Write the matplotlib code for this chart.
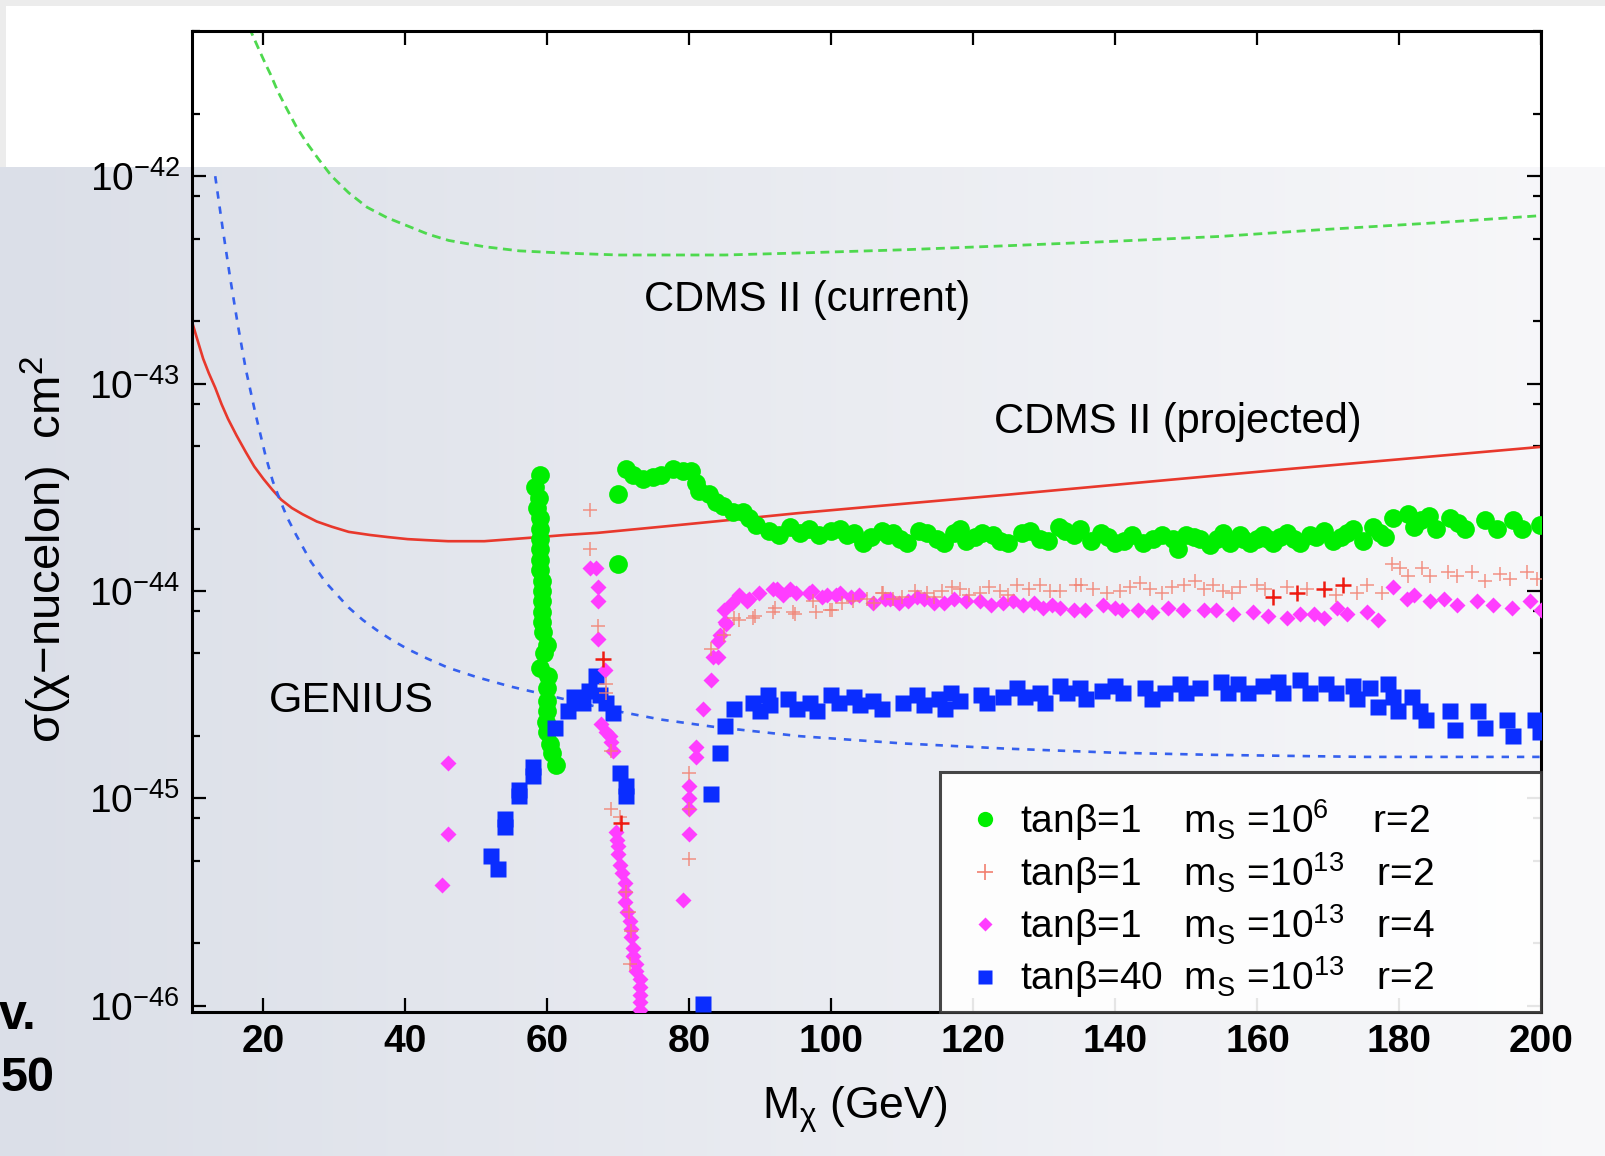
import numpy as np
import matplotlib
matplotlib.use('Agg')
import matplotlib.pyplot as plt
from matplotlib.lines import Line2D
from matplotlib.ticker import FixedLocator, LogLocator, FuncFormatter, NullFormatter

plt.rcParams['font.family'] = ['Liberation Sans', 'DejaVu Sans']
plt.rcParams['mathtext.fontset'] = 'custom'
plt.rcParams['mathtext.rm'] = 'Liberation Sans'
plt.rcParams['mathtext.it'] = 'Liberation Sans:italic'
plt.rcParams['mathtext.bf'] = 'Liberation Sans:bold'

# ---------------- data (x in GeV, y as log10 of cm^2) ----------------
x_ticks = [20, 40, 60, 80, 100, 120, 140, 160, 180, 200]
y_tick_exps = [-46, -45, -44, -43, -42]

cdms_cur_x = [17.2, 18.2, 19.5, 20.3, 21.0, 22.0, 23.2, 24.6, 26.1, 27.8, 29.6, 32.0, 34.6,
              37.4, 40.3, 43.2, 46.1, 51.1, 56.0, 61.8, 70.0, 76.1, 85.0, 95.8, 110.0, 125.0,
              139.1, 155.0, 168.0, 185.0, 200.0]
cdms_cur_log = [-41.14, -41.30, -41.40, -41.46, -41.51, -41.59, -41.67, -41.76, -41.84, -41.92,
                -42.00, -42.08, -42.15, -42.20, -42.24, -42.28, -42.31, -42.34, -42.36, -42.37,
                -42.38, -42.38, -42.38, -42.37, -42.355, -42.335, -42.315, -42.29, -42.26,
                -42.225, -42.19]

cdms_proj_x = [10.0, 10.7, 11.5, 12.3, 13.2, 14.1, 15.0, 16.2, 17.5, 18.7, 20.0, 21.2, 22.5,
               24.0, 25.5, 27.5, 29.6, 32.0, 35.0, 37.5, 40.3, 43.0, 46.0, 48.5, 51.1, 55.0,
               58.9, 62.5, 67.0, 76.1, 85.0, 95.2, 110.0, 125.0, 145.7, 165.0, 185.0, 200.0]
cdms_proj_log = [-42.71, -42.79, -42.88, -42.95, -43.02, -43.10, -43.17, -43.25, -43.33, -43.40,
                 -43.46, -43.51, -43.56, -43.60, -43.63, -43.665, -43.69, -43.715, -43.73,
                 -43.74, -43.75, -43.755, -43.76, -43.76, -43.76, -43.75, -43.74, -43.73,
                 -43.72, -43.69, -43.66, -43.625, -43.58, -43.535, -43.47, -43.41, -43.35,
                 -43.305]

genius_x = [13.2, 14.2, 15.3, 16.4, 17.5, 18.9, 20.3, 21.3, 22.3, 23.4, 24.6, 26.7, 28.8,
            30.4, 32.0, 34.0, 36.0, 38.0, 40.3, 43.0, 46.0, 50.0, 54.7, 59.7, 64.0, 69.1,
            76.0, 83.4, 95.5, 110.0, 124.5, 140.0, 153.6, 175.0, 200.0]
genius_log = [-42.00, -42.24, -42.49, -42.72, -42.93, -43.15, -43.35, -43.47, -43.56, -43.65,
              -43.73, -43.86, -43.96, -44.02, -44.08, -44.14, -44.19, -44.235, -44.28, -44.325,
              -44.37, -44.415, -44.46, -44.50, -44.535, -44.575, -44.62, -44.655, -44.70,
              -44.735, -44.76, -44.78, -44.79, -44.80, -44.80]

# tanb=1, m_S=1e6, r=2 (green circles)
green_x = [58.9, 58.2, 58.8, 58.5, 58.9, 59.0, 59.0, 59.0, 59.0, 59.0, 59.2, 59.2, 59.2, 59.2,
           59.2, 59.4, 59.9, 59.5, 58.9, 60.1, 59.9, 59.9, 59.9, 59.8, 59.9, 60.4, 60.6, 61.2,
           69.9, 70.0,
           71.0, 72.0, 73.4, 74.8, 76.0, 77.7, 79.1, 80.2, 80.9, 81.4, 82.8, 83.7, 84.7, 86.1,
           87.5, 88.4, 89.4, 91.2, 92.6, 94.1, 95.5, 96.9, 98.3,
           100.0, 101.2, 102.2, 103.1, 104.5, 105.5, 107.1, 108.0, 108.7, 109.7, 110.6, 112.3,
           113.4, 114.8, 115.8, 117.2, 118.1, 119.0, 120.2, 121.2, 122.8, 123.8, 124.9, 126.8,
           128.0, 129.4, 130.5, 132.0, 132.9, 134.1, 135.0, 136.6, 138.0, 139.0, 139.9, 141.2,
           142.3, 143.9, 145.3, 146.5, 148.1, 148.8, 150.0, 151.0, 151.9, 153.3, 154.3, 155.2,
           156.1, 157.5, 158.0, 158.9, 160.0, 160.8, 161.5, 162.2, 163.2, 164.1, 165.1, 166.0,
           167.4, 168.3, 169.3, 170.7, 171.7, 172.6, 173.5, 174.9, 176.3, 177.2, 178.0, 179.1,
           181.2, 182.0, 183.0, 184.1, 185.2, 187.1, 188.2, 189.2, 192.0, 193.7, 196.0, 197.2,
           199.8]
green_log = [-43.44, -43.50, -43.55, -43.60, -43.65, -43.70, -43.75, -43.80, -43.85, -43.90,
             -43.95, -44.00, -44.05, -44.10, -44.15, -44.20, -44.26, -44.30, -44.37, -44.41,
             -44.47, -44.53, -44.58, -44.63, -44.68, -44.74, -44.78, -44.84,
             -43.53, -43.87,
             -43.41, -43.44, -43.46, -43.45, -43.44, -43.41, -43.42, -43.42, -43.48, -43.52,
             -43.53, -43.57, -43.59, -43.62, -43.62, -43.65, -43.68, -43.71, -43.73, -43.69,
             -43.72, -43.70, -43.73,
             -43.71, -43.70, -43.73, -43.72, -43.77, -43.74, -43.71, -43.73, -43.72, -43.75,
             -43.77, -43.71, -43.72, -43.75, -43.77, -43.72, -43.70, -43.76, -43.74, -43.72,
             -43.73, -43.76, -43.77, -43.72, -43.71, -43.75, -43.76, -43.69, -43.71, -43.73,
             -43.70, -43.76, -43.72, -43.74, -43.77, -43.76, -43.73, -43.77, -43.75, -43.73,
             -43.75, -43.80, -43.73, -43.74, -43.75, -43.78, -43.75, -43.72, -43.77, -43.73,
             -43.75, -43.77, -43.75, -43.73, -43.75, -43.77, -43.74, -43.72, -43.75, -43.77,
             -43.73, -43.74, -43.71, -43.76, -43.74, -43.72, -43.70, -43.76, -43.69, -43.72,
             -43.74, -43.65, -43.63, -43.69, -43.66, -43.64, -43.70, -43.65, -43.67, -43.70,
             -43.66, -43.70, -43.66, -43.70, -43.68]

# tanb=40, m_S=1e13, r=2 (blue squares)
blue_x = [52.1, 53.0, 54.0, 54.0, 56.0, 56.0, 58.0, 58.0, 61.0, 62.9, 63.8, 65.0, 65.9, 66.9,
          67.4, 68.3, 69.2, 70.2, 71.1, 71.1, 81.9, 83.0, 84.3, 85.0, 86.2, 89.0, 89.9, 91.1,
          91.3, 93.9, 95.1, 97.0, 97.9, 100.0, 101.0, 103.1, 104.0, 105.9, 107.1, 110.1, 112.0,
          113.0, 115.1, 116.0, 116.9, 118.1, 121.1, 121.9, 124.2, 126.1, 127.3, 129.4, 130.1,
          132.2, 133.1, 135.0, 135.9, 138.1, 139.9, 141.1, 144.2, 145.1, 147.0, 149.1, 150.0,
          151.9, 154.9, 155.9, 157.3, 158.7, 160.8, 162.9, 163.6, 166.0, 167.4, 169.7, 171.1,
          173.5, 174.0, 175.8, 177.0, 178.4, 179.1, 179.8, 181.7, 182.9, 183.8, 187.1, 187.8,
          191.1, 192.0, 195.1, 196.0, 199.1, 199.8]
blue_log = [-45.28, -45.34, -45.10, -45.14, -44.96, -44.99, -44.85, -44.89, -44.66, -44.58,
            -44.51, -44.54, -44.48, -44.41, -44.50, -44.54, -44.59, -44.88, -44.94, -44.99,
            -45.99, -44.98, -44.78, -44.65, -44.57, -44.54, -44.58, -44.50, -44.55, -44.52,
            -44.57, -44.54, -44.58, -44.50, -44.54, -44.51, -44.55, -44.53, -44.57, -44.54,
            -44.50, -44.55, -44.52, -44.57, -44.49, -44.53, -44.50, -44.54, -44.51, -44.47,
            -44.51, -44.49, -44.54, -44.46, -44.49, -44.47, -44.52, -44.48, -44.46, -44.49,
            -44.47, -44.52, -44.49, -44.45, -44.49, -44.47, -44.44, -44.49, -44.45, -44.49,
            -44.46, -44.44, -44.49, -44.43, -44.49, -44.45, -44.49, -44.46, -44.52, -44.47,
            -44.56, -44.45, -44.51, -44.58, -44.51, -44.58, -44.62, -44.58, -44.67, -44.58,
            -44.66, -44.62, -44.70, -44.62, -44.68]

# tanb=1, m_S=1e13, r=4 (magenta diamonds)
mag_x = [46.0, 46.0, 45.1,
         66.0, 66.9, 67.1, 67.1, 67.1, 68.1, 67.6, 68.3, 68.8, 69.0, 69.2,
         69.7, 69.8, 69.9, 70.0, 70.2, 70.5, 70.9, 70.9, 70.9, 71.2, 71.6, 71.8, 71.8, 72.0,
         72.0, 72.5, 72.5, 73.0, 73.0, 73.0, 73.0, 73.0,
         79.1, 80.0, 80.0, 80.0, 80.0, 80.9, 80.9, 81.9, 83.0, 83.3, 84.0, 84.0, 84.3, 85.0,
         85.2, 84.9, 86.0, 87.0, 88.1, 88.4, 89.8, 91.7, 92.3, 93.1, 94.1, 95.0, 96.9, 97.2,
         98.7, 99.3, 100.6, 101.2, 102.8, 103.9, 105.8, 107.6, 108.2, 109.5, 110.8, 112.0,
         113.0, 114.5, 115.8, 117.2, 119.0, 120.9, 122.5, 124.2, 125.5, 127.0, 128.5, 129.8,
         131.0, 132.2, 134.1, 135.7, 138.3, 139.9, 140.9, 143.2, 145.1, 147.4, 149.5, 152.4,
         154.2, 156.6, 159.4, 161.5, 164.1, 166.0, 167.9, 169.3, 171.2, 172.6, 175.4, 177.0,
         179.1, 181.0, 182.0, 184.3, 186.2, 188.1, 190.9, 193.2, 195.8, 198.4, 200.0]
mag_log = [-44.83, -45.17, -45.42,
           -43.89, -43.89, -43.98, -44.05, -44.23, -44.38, -44.64, -44.68, -44.70, -44.73, -44.77,
           -45.16, -45.20, -45.23, -45.27, -45.32, -45.36, -45.41, -45.45, -45.50, -45.55, -45.59,
           -45.63, -45.67, -45.72, -45.76, -45.80, -45.83, -45.87, -45.91, -45.95, -45.98, -46.02,
           -45.49, -45.17, -45.05, -45.00, -44.94, -44.80, -44.75, -44.57, -44.43, -44.32, -44.32,
           -44.24, -44.21, -44.15, -44.16, -44.09, -44.06, -44.02, -44.05, -44.04, -44.01, -43.99,
           -43.99, -44.02, -43.99, -44.01, -44.01, -44.00, -44.03, -44.02, -44.02, -44.01, -44.03,
           -44.02, -44.06, -44.04, -44.04, -44.06, -44.05, -44.03, -44.04, -44.06, -44.06, -44.04,
           -44.05, -44.05, -44.07, -44.06, -44.05, -44.07, -44.06, -44.08, -44.07, -44.08, -44.09,
           -44.09, -44.07, -44.08, -44.09, -44.09, -44.10, -44.08, -44.09, -44.09, -44.09, -44.11,
           -44.10, -44.12, -44.13, -44.11, -44.11, -44.13, -44.08, -44.11, -44.10, -44.14,
           -43.98, -44.04, -44.02, -44.05, -44.04, -44.07, -44.05, -44.07, -44.08, -44.05, -44.09]

# tanb=1, m_S=1e13, r=2 (red crosses)
red_x = [66.0, 66.0, 67.1, 68.3, 68.3, 69.0, 69.0, 70.2, 71.0, 71.5, 71.8, 71.6,
         80.0, 80.0, 80.0, 83.0, 84.9, 86.2, 87.0, 88.9, 89.2, 91.7, 92.0, 94.6, 94.8, 97.4,
         97.8, 99.8, 100.1, 101.5, 103.0, 105.0, 106.0, 107.1, 107.2, 108.6, 110.0, 111.8,
         113.4, 114.5, 115.5, 117.0, 118.1, 119.4, 120.9, 122.2, 123.7, 124.8, 126.1, 127.8,
         129.4, 130.8, 132.2, 134.5, 135.2, 136.9, 138.8, 140.6, 142.0, 143.4, 144.9, 146.5,
         148.0, 149.6, 151.2, 152.4, 153.8, 155.2, 156.4, 157.5, 159.9, 161.0, 164.1, 167.0,
         171.0, 174.0, 175.4, 177.5, 178.9, 180.1, 181.2, 183.1, 184.3, 186.9, 188.1, 190.2,
         192.0, 194.2, 195.6, 197.9, 199.3]
red_log = [-43.61, -43.80, -44.17, -44.45, -44.49, -44.77, -45.05, -45.09, -45.45, -45.55,
           -45.64, -45.80,
           -44.88, -45.05, -45.29, -44.28, -44.21, -44.13, -44.14, -44.13, -44.12, -44.10,
           -44.08, -44.10, -44.11, -44.05, -44.10, -44.09, -44.09, -44.06, -44.05, -44.04,
           -44.06, -44.01, -44.01, -44.04, -44.03, -44.00, -44.01, -44.03, -44.00, -43.98,
           -43.99, -44.02, -44.01, -43.98, -44.00, -44.02, -43.97, -43.99, -43.97, -44.00,
           -44.00, -43.97, -43.97, -43.99, -44.01, -44.00, -43.98, -43.96, -43.99, -44.01,
           -43.98, -43.97, -43.95, -43.99, -43.97, -44.00, -44.01, -43.98, -43.97, -43.99,
           -43.98, -43.99, -44.02, -44.01, -43.97, -44.01, -43.87, -43.89, -43.93, -43.89,
           -43.93, -43.91, -43.93, -43.91, -43.95, -43.92, -43.94, -43.91, -43.94]
red_dark_x = [67.8, 70.3, 162.2, 165.5, 169.3, 172.1]
red_dark_log = [-44.33, -45.12, -44.03, -44.01, -43.99, -43.97]

leg_tanb = ['tanβ=1', 'tanβ=1', 'tanβ=1', 'tanβ=40']
leg_ms = ['6', '13', '13', '13']
leg_r = ['2', '2', '4', '2']

# ---------------- figure ----------------
W, H = 1606, 1156
fig = plt.figure(figsize=(W / 100, H / 100), dpi=100)

# slide background
yy, xx = np.mgrid[0:H, 0:W]
img = np.ones((H, W, 3))
left_c = np.array([219, 223, 232]) / 255.0
right_c = np.array([248, 248, 250]) / 255.0
t = (xx / W)[..., None]
grad = left_c * (1 - t) + right_c * t
grey_mask = (yy >= 167)[..., None]
img = np.where(grey_mask, grad, img)
outer = ((yy < 6) | (xx < 6)) & (yy < 167)
img[outer] = np.array([236, 236, 236]) / 255.0
bg = fig.add_axes([0, 0, 1, 1], zorder=0)
bg.imshow(img, extent=(0, W, H, 0), aspect='auto', interpolation='bilinear')
bg.set_xlim(0, W)
bg.set_ylim(H, 0)
bg.set_axis_off()

fig.text(37 / W, 1 - 1029 / H, 'v.', ha='right', va='baseline', fontsize=36, fontweight='bold')
fig.text(1 / W, 1 - 1091 / H, '50', ha='left', va='baseline', fontsize=35, fontweight='bold')

ax = fig.add_axes([192.5 / W, 1 - 1012 / H, 1349 / W, 981 / H], zorder=1)
ax.set_facecolor('none')

def pw(v):
    return np.power(10.0, np.asarray(v))

ax.plot(cdms_cur_x, pw(cdms_cur_log), ls=(0, (3.2, 2.0)), color='#4ed94e', lw=2.0, zorder=2)
ax.plot(cdms_proj_x, pw(cdms_proj_log), ls='-', color='#e8382c', lw=1.9, zorder=2)
ax.plot(genius_x, pw(genius_log), ls=(0, (2.8, 3.0)), color='#3560ee', lw=1.9, zorder=2)

ax.plot(green_x, pw(green_log), ls='none', marker='o', ms=13.5, color='#00ee00', mec='none', zorder=3)
ax.plot(blue_x, pw(blue_log), ls='none', marker='s', ms=12, color='#0a2dff', mec='none', zorder=4)
ax.plot(mag_x, pw(mag_log), ls='none', marker='D', ms=8.5, color='#ff3dff', mec='none', zorder=5)
ax.plot(red_x, pw(red_log), ls='none', marker='+', ms=10, mew=1.1, color='#f28070', alpha=0.85, zorder=6)
ax.plot(red_dark_x, pw(red_dark_log), ls='none', marker='+', ms=11, mew=1.8, color='#ee1a10', zorder=6)

ax.set_xlim(10, 200)
ax.set_yscale('log')
ax.set_ylim(10 ** -46.03, 10 ** -41.30)
ax.xaxis.set_major_locator(FixedLocator(x_ticks))
ax.yaxis.set_major_locator(FixedLocator([10.0 ** e for e in y_tick_exps]))
ax.yaxis.set_minor_locator(LogLocator(base=10, subs=[2, 5, 8], numticks=30))
ax.yaxis.set_minor_formatter(NullFormatter())
ax.yaxis.set_major_formatter(FuncFormatter(
    lambda v, p: r'$\mathregular{10^{%d}}$' % int(round(np.log10(v)))))

ax.tick_params(which='both', direction='in', top=True, right=True, width=1.6, color='black')
ax.tick_params(which='major', length=10)
ax.tick_params(which='minor', length=6)
ax.tick_params(axis='x', labelsize=28, pad=9)
ax.tick_params(axis='y', labelsize=28, pad=9)
for lab in ax.get_xticklabels():
    lab.set_fontweight('bold')
for sp in ax.spines.values():
    sp.set_linewidth(2.2)
    sp.set_color('black')

ax.set_ylabel('σ(χ−nucelon)  cm$^2$', fontsize=34, va='center')
ax.yaxis.set_label_coords(-0.1086, 0.471)
ax.set_xlabel(r'M$_\mathregular{χ}$ (GeV)', fontsize=32)
ax.xaxis.set_label_coords(0.491, -0.074)

ax.text(96.6, 10 ** -42.596, 'CDMS II (current)', fontsize=30, ha='center', va='center', zorder=7)
ax.text(148.8, 10 ** -43.187, 'CDMS II (projected)', fontsize=30, ha='center', va='center', zorder=7)
ax.text(32.4, 10 ** -44.532, 'GENIUS', fontsize=31, ha='center', va='center', zorder=7)

handles = [
    Line2D([], [], ls='none', marker='o', ms=11, color='#00ee00', mec='none'),
    Line2D([], [], ls='none', marker='+', ms=11, mew=1.2, color='#f28070'),
    Line2D([], [], ls='none', marker='D', ms=7, color='#ff3dff', mec='none'),
    Line2D([], [], ls='none', marker='s', ms=9.5, color='#0a2dff', mec='none'),
]
gap1 = ['    ', '    ', '    ', '  ']
gap2 = ['    ', '   ', '   ', '   ']
labels = []
for tb, ms, r, g1, g2 in zip(leg_tanb, leg_ms, leg_r, gap1, gap2):
    labels.append(tb + g1 + r'm$_\mathregular{S}$ =$\mathregular{10^{%s}}$' % ms + g2 + 'r=' + r)

leg = ax.legend(handles, labels, loc='lower left', bbox_to_anchor=(0.554, 0.0, 0.446, 0.241),
                mode='expand', borderaxespad=0, borderpad=0.3, handlelength=1.7,
                handletextpad=0.05, labelspacing=0.17, prop={'size': 28}, fancybox=False,
                frameon=True, edgecolor='#333333', facecolor='white', framealpha=0.9,
                title=' ', title_fontsize=6)
leg.get_frame().set_linewidth(2.2)
leg.set_zorder(10)

fig.savefig('out.png', dpi=100)
